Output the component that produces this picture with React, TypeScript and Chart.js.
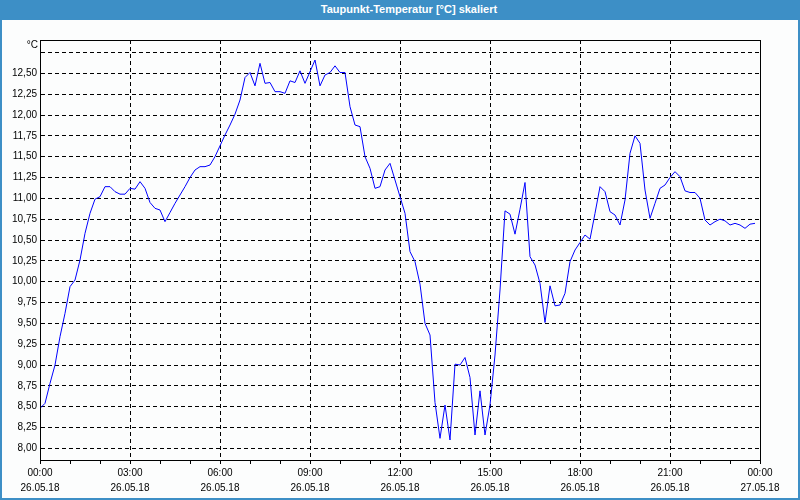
import React, { useEffect, useRef } from 'react';
import { Chart, registerables } from 'chart.js';

Chart.register(...registerables);

const TITLE = 'Taupunkt-Temperatur [°C] skaliert';
const UNIT = '°C';
const SAMPLE_MINUTES = 10;

// Dew point in °C, one value every 10 minutes from 26.05.18 00:00 to 23:50
const dewPoint: number[] = [
  8.48, 8.54, 8.78, 9.0, 9.34, 9.62, 9.94, 10.02, 10.26, 10.58, 10.82, 10.99,
  11.02, 11.14, 11.14, 11.08, 11.05, 11.05, 11.12, 11.11, 11.2, 11.12, 10.95, 10.88,
  10.86, 10.72, 10.83, 10.94, 11.04, 11.14, 11.25, 11.34, 11.38, 11.38, 11.4, 11.5,
  11.63, 11.76, 11.88, 12.01, 12.18, 12.45, 12.51, 12.35, 12.62, 12.38, 12.39, 12.28,
  12.28, 12.26, 12.41, 12.39, 12.53, 12.38, 12.52, 12.66, 12.35, 12.48, 12.51, 12.59,
  12.51, 12.51, 12.1, 11.88, 11.86, 11.5, 11.36, 11.12, 11.14, 11.34, 11.42, 11.22,
  11.02, 10.82, 10.36, 10.24, 9.97, 9.5, 9.36, 8.55, 8.12, 8.52, 8.1, 9.01,
  9.0, 9.09, 8.85, 8.16, 8.69, 8.16, 8.52, 9.12, 9.9, 10.85, 10.81, 10.57,
  10.87, 11.19, 10.3, 10.2, 9.98, 9.51, 9.95, 9.71, 9.72, 9.86, 10.24, 10.38,
  10.47, 10.56, 10.51, 10.82, 11.14, 11.08, 10.84, 10.8, 10.68, 10.98, 11.54, 11.75,
  11.66, 11.1, 10.76, 10.94, 11.12, 11.16, 11.25, 11.32, 11.26, 11.09, 11.07, 11.07,
  11.0, 10.74, 10.68, 10.72, 10.75, 10.73, 10.68, 10.7, 10.68, 10.64, 10.69, 10.7,
];

const timeTickLabels = ['00:00', '03:00', '06:00', '09:00', '12:00', '15:00', '18:00', '21:00', '00:00'];
const dateTickLabels = ['26.05.18', '26.05.18', '26.05.18', '26.05.18', '26.05.18', '26.05.18', '26.05.18', '26.05.18', '27.05.18'];
const yTickValues = [8.0, 8.25, 8.5, 8.75, 9.0, 9.25, 9.5, 9.75, 10.0, 10.25, 10.5, 10.75, 11.0, 11.25, 11.5, 11.75, 12.0, 12.25, 12.5, 12.75];
const yLabelMax = 12.5;
const yMin = 7.86;
const yMax = 12.9;
const xMaxHours = 24;
const labelEveryHours = 3;

const FONT = '"Liberation Sans", Arial, sans-serif';

export default function App() {
  const ref = useRef<HTMLCanvasElement>(null);

  useEffect(() => {
    if (!ref.current) return;
    const points = dewPoint.map((v, i) => ({ x: (i * SAMPLE_MINUTES) / 60, y: v }));

    const framePlugin = {
      id: 'frame',
      afterDraw(chart: any) {
        const { ctx, chartArea } = chart;
        ctx.save();
        ctx.strokeStyle = '#000';
        ctx.lineWidth = 1;
        ctx.setLineDash([]);
        ctx.strokeRect(chartArea.left + 0.5, chartArea.top + 0.5, chartArea.right - chartArea.left, chartArea.bottom - chartArea.top);
        ctx.fillStyle = '#000';
        ctx.font = `10px ${FONT}`;
        ctx.textAlign = 'right';
        ctx.textBaseline = 'middle';
        ctx.fillText(UNIT, chartArea.left - 2, chartArea.top + 5);
        ctx.restore();
      },
    };

    const chart = new Chart(ref.current, {
      type: 'line',
      data: {
        datasets: [
          {
            data: points,
            borderColor: '#0000ff',
            borderWidth: 1,
            pointRadius: 0,
            tension: 0,
            fill: false,
          },
        ],
      },
      options: {
        responsive: false,
        animation: false,
        devicePixelRatio: 1,
        color: '#000',
        font: { family: FONT, size: 10 },
        layout: { padding: { left: 0, right: 40, top: 40, bottom: 0 } },
        plugins: {
          legend: { display: false },
          tooltip: { enabled: false },
          title: { display: false },
        },
        scales: {
          x: {
            type: 'linear',
            min: 0,
            max: xMaxHours,
            afterFit: (s: any) => {
              s.height = 40;
            },
            ticks: {
              stepSize: 1,
              autoSkip: false,
              maxRotation: 0,
              minRotation: 0,
              padding: 2,
              color: '#000',
              font: { family: FONT, size: 10, lineHeight: 1.5 },
              callback: (v: any) => {
                const n = Number(v);
                if (n % labelEveryHours !== 0) return '';
                const i = n / labelEveryHours;
                return [timeTickLabels[i], dateTickLabels[i]];
              },
            },
            grid: {
              color: (ctx: any) => (ctx.tick && ctx.tick.value % labelEveryHours === 0 ? '#000' : 'rgba(0,0,0,0)'),
              tickColor: '#000',
              tickLength: 4,
              drawTicks: true,
              lineWidth: 1,
              tickBorderDash: [],
            },
            border: { display: true, color: '#000', dash: [4, 3] },
          },
          y: {
            type: 'linear',
            min: yMin,
            max: yMax,
            afterFit: (s: any) => {
              s.width = 40;
            },
            afterBuildTicks: (s: any) => {
              s.ticks = yTickValues.map((v) => ({ value: v }));
            },
            ticks: {
              padding: 3,
              color: '#000',
              font: { family: FONT, size: 10 },
              callback: (v: any) => {
                const n = Number(v);
                return n <= yLabelMax + 1e-9 ? n.toFixed(2).replace('.', ',') : '';
              },
            },
            grid: {
              color: '#000',
              drawTicks: false,
              lineWidth: 1,
            },
            border: { display: true, color: '#000', dash: [4, 3] },
          },
        },
      },
      plugins: [framePlugin],
    } as any);

    return () => chart.destroy();
  }, []);

  return (
    <div style={{ position: 'absolute', left: 0, top: 0, width: 800, height: 500, background: '#3d8fc6', overflow: 'hidden' }}>
      <div
        style={{
          position: 'absolute',
          left: 0,
          top: 0,
          width: 800,
          height: 20,
          boxSizing: 'border-box',
          paddingLeft: 18,
          color: '#fff',
          fontFamily: FONT,
          fontWeight: 'bold',
          fontSize: 11,
          lineHeight: '18px',
          textAlign: 'center',
        }}
      >
        {TITLE}
      </div>
      <div style={{ position: 'absolute', left: 2, top: 20, width: 796, height: 478, background: '#fcfdfd' }} />
      <canvas ref={ref} width={800} height={500} style={{ position: 'absolute', left: 0, top: 0 }} />
    </div>
  );
}
